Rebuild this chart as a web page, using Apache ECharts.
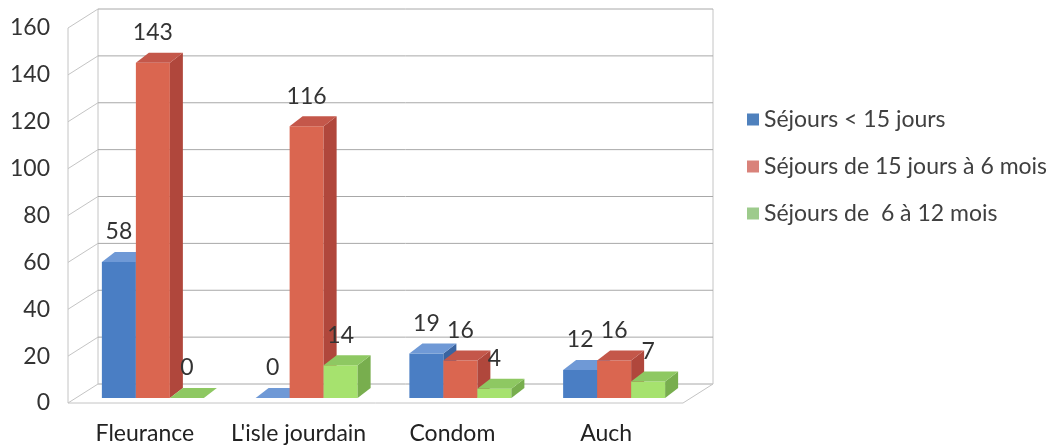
<!DOCTYPE html>
<html><head><meta charset="utf-8">
<script src="https://cdn.jsdelivr.net/npm/echarts@6/dist/echarts.min.js"></script>
<style>html,body{margin:0;padding:0;background:#fff}#c{width:1059px;height:448px}</style>
</head><body><div id="c"></div>
<script>
const categories = ['Fleurance', "L'isle jourdain", 'Condom', 'Auch'];
const seriesNames = ['Séjours < 15 jours', 'Séjours de 15 jours à 6 mois', 'Séjours de  6 à 12 mois'];
const sejoursMoins15 = [58, 0, 19, 12];
const sejours15jA6m = [143, 116, 16, 16];
const sejours6A12m = [0, 14, 4, 7];
const yTicks = [0, 20, 40, 60, 80, 100, 120, 140, 160];

const FONT = 'Lato, "Liberation Sans", sans-serif';
const palettes = [
  {legend: '#4F81BD', front: '#4A7EC4', top: '#6F99D6', side: '#3A64A0'},
  {legend: '#D9827A', front: '#DA6650', top: '#C4574A', side: '#B0473C'},
  {legend: '#9DCB8C', front: '#A6E26E', top: '#8EC862', side: '#78AE4E'}
];
// depth geometry (pixels)
const BX = 30, BY = -19;   // back wall offset from front plane
const PX = 8, PY = -5;     // bar plane offset from front plane
const BW = 34, DX = 13, DY = 10; // bar width and bar depth

function wallsRender(params, api) {
  const cs = params.coordSys;
  const v = api.value(1);
  const y = api.coord([0, v])[1];
  const gx = cs.x, gw = cs.width;
  const children = [];
  const grid = {stroke: '#A8A8A8', lineWidth: 1};
  const edge = {stroke: '#C4C4C4', lineWidth: 1};
  children.push({type: 'line', shape: {x1: gx + BX, y1: y + BY, x2: gx + gw + BX, y2: y + BY}, style: grid});
  children.push({type: 'line', shape: {x1: gx, y1: y, x2: gx + BX, y2: y + BY}, style: edge});
  if (v === 0) {
    children.push({type: 'line', shape: {x1: gx, y1: y, x2: gx + gw, y2: y}, style: edge});
    children.push({type: 'line', shape: {x1: gx + gw, y1: y, x2: gx + gw + BX, y2: y + BY}, style: edge});
    const yTop = api.coord([0, yTicks[yTicks.length - 1]])[1];
    children.push({type: 'line', shape: {x1: gx + BX, y1: yTop + BY, x2: gx + BX, y2: y + BY}, style: edge});
    children.push({type: 'line', shape: {x1: gx + gw + BX, y1: yTop + BY, x2: gx + gw + BX, y2: y + BY}, style: edge});
    children.push({type: 'line', shape: {x1: gx, y1: yTop, x2: gx, y2: y}, style: edge});
  }
  return {type: 'group', children};
}

function barRender(k) {
  const p = palettes[k];
  return function (params, api) {
    const i = api.value(0), v = api.value(1);
    const top = api.coord([i, v]);
    const base = api.coord([i, 0]);
    const cx = top[0] + PX + (k - 1) * BW;
    const x0 = cx - BW / 2, x1 = cx + BW / 2;
    const yT = top[1] + PY, yB = base[1] + PY;
    const children = [];
    if (yB - yT > 0.5) {
      children.push({type: 'rect', shape: {x: x0, y: yT, width: BW, height: yB - yT}, style: {fill: p.front}});
      children.push({type: 'polygon', shape: {points: [[x1, yT], [x1 + DX, yT - DY], [x1 + DX, yB - DY], [x1, yB]]}, style: {fill: p.side}});
    }
    children.push({type: 'polygon', shape: {points: [[x0, yT], [x1, yT], [x1 + DX, yT - DY], [x0 + DX, yT - DY]]}, style: {fill: p.top}});
    children.push({type: 'text', z2: 10, style: {text: String(v), x: cx, y: yT - 30, align: 'center', verticalAlign: 'middle', font: '23px ' + FONT, fill: '#333333'}});
    return {type: 'group', children};
  };
}

const valueSets = [sejoursMoins15, sejours15jA6m, sejours6A12m];
const series = [{
  type: 'custom', name: '__walls', silent: true, z: 1,
  renderItem: wallsRender,
  data: yTicks.map(v => [0, v])
}];
valueSets.forEach((vals, k) => {
  series.push({
    type: 'custom', name: seriesNames[k], z: 2 + k,
    itemStyle: {color: palettes[k].legend},
    renderItem: barRender(k),
    data: vals.map((v, i) => [i, v])
  });
});

const chart = echarts.init(document.getElementById('c'), null, {renderer: 'canvas'});
chart.setOption({
  backgroundColor: '#ffffff',
  animation: false,
  grid: {left: 68, right: 376, top: 28, bottom: 45},
  legend: {
    data: seriesNames, orient: 'vertical', left: 742, top: 103,
    icon: 'rect', itemWidth: 12, itemHeight: 12, itemGap: 24, itemTextGap: 5,
    textStyle: {fontSize: 23, color: '#404040', fontFamily: FONT}
  },
  xAxis: {
    type: 'category', data: categories,
    axisLine: {show: false}, axisTick: {show: false},
    axisLabel: {interval: 0, fontSize: 23, color: '#222222', fontFamily: FONT, margin: 19}
  },
  yAxis: {
    type: 'value', min: 0, max: 160, interval: 20,
    axisLine: {show: false}, axisTick: {show: false}, splitLine: {show: false},
    axisLabel: {fontSize: 23, color: '#333333', fontFamily: FONT, margin: 18}
  },
  series
});
</script>
</body></html>
